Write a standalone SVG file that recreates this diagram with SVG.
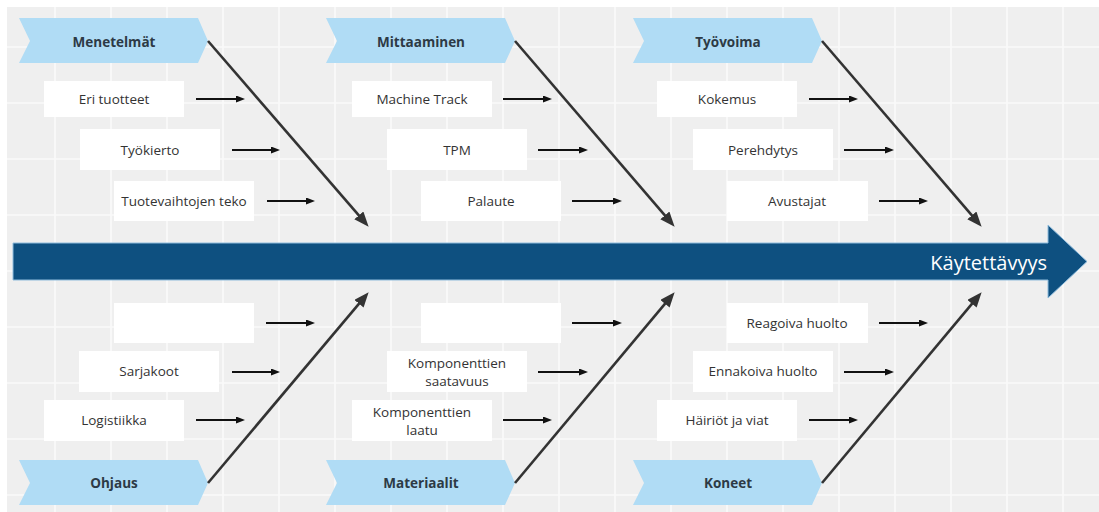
<svg xmlns="http://www.w3.org/2000/svg" width="1099" height="512" viewBox="0 0 1099 512">
<style>
.bg{fill:#efefef}
.grid line{stroke:#fafafa;stroke-width:1.6}
.chev{fill:#b0dcf5}
.ct{font-family:"Open Sans","Liberation Sans",sans-serif;font-weight:bold;font-size:13.5px;fill:#2d3a45;text-anchor:middle}
.box{fill:#ffffff}
.bt{font-family:"Open Sans","Liberation Sans",sans-serif;font-size:13.5px;fill:#333333;text-anchor:middle}
.sa{stroke:#111111;stroke-width:2;fill:none;marker-end:url(#sm)}
.da{stroke:#333333;stroke-width:2.6;fill:none;marker-end:url(#bg)}
</style>
<defs>
<marker id="sm" markerUnits="userSpaceOnUse" markerWidth="9" markerHeight="7" refX="4.5" refY="3.5" orient="auto"><path d="M0,0 L9,3.5 L0,7 z" fill="#111111"/></marker>
<marker id="bg" markerUnits="userSpaceOnUse" markerWidth="15" markerHeight="12" refX="7" refY="6" orient="auto"><path d="M0,0 L15,6 L0,12 z" fill="#333333"/></marker>
<path id="chevShape" d="M0,0 H179 L189,23 L179,45 H0 L11,23 Z"/>
</defs>
<rect x="7" y="7" width="1092" height="505" class="bg"/>
<g class="grid">
<line x1="55" y1="7" x2="55" y2="512"/><line x1="111" y1="7" x2="111" y2="512"/><line x1="167" y1="7" x2="167" y2="512"/><line x1="223" y1="7" x2="223" y2="512"/><line x1="279" y1="7" x2="279" y2="512"/><line x1="335" y1="7" x2="335" y2="512"/><line x1="391" y1="7" x2="391" y2="512"/><line x1="447" y1="7" x2="447" y2="512"/><line x1="503" y1="7" x2="503" y2="512"/><line x1="559" y1="7" x2="559" y2="512"/><line x1="615" y1="7" x2="615" y2="512"/><line x1="671" y1="7" x2="671" y2="512"/><line x1="727" y1="7" x2="727" y2="512"/><line x1="783" y1="7" x2="783" y2="512"/><line x1="839" y1="7" x2="839" y2="512"/><line x1="895" y1="7" x2="895" y2="512"/><line x1="951" y1="7" x2="951" y2="512"/><line x1="1007" y1="7" x2="1007" y2="512"/><line x1="1063" y1="7" x2="1063" y2="512"/>
<line x1="7" y1="47" x2="1099" y2="47"/><line x1="7" y1="103" x2="1099" y2="103"/><line x1="7" y1="159" x2="1099" y2="159"/><line x1="7" y1="215" x2="1099" y2="215"/><line x1="7" y1="271" x2="1099" y2="271"/><line x1="7" y1="327" x2="1099" y2="327"/><line x1="7" y1="383" x2="1099" y2="383"/><line x1="7" y1="439" x2="1099" y2="439"/><line x1="7" y1="495" x2="1099" y2="495"/>
</g>
<g id="spine">
<path d="M13,243 H1048 V225 L1087,261.5 L1048,298 V280 H13 Z" fill="#0e5080" stroke="#8fbcdc" stroke-width="1"/>
<text x="1047" y="269.5" font-family="'Open Sans','Liberation Sans',sans-serif" font-size="20" fill="#ffffff" text-anchor="end">Käytettävyys</text>
</g>
<g id="cat-menetelmat"><use href="#chevShape" x="19" y="18" class="chev"/><text x="114" y="46.5" class="ct">Menetelmät</text></g>
<g id="cat-mittaaminen"><use href="#chevShape" x="326" y="18" class="chev"/><text x="421" y="46.5" class="ct">Mittaaminen</text></g>
<g id="cat-tyovoima"><use href="#chevShape" x="633" y="18" class="chev"/><text x="728" y="46.5" class="ct">Työvoima</text></g>
<g id="cat-ohjaus"><use href="#chevShape" x="19" y="460" class="chev"/><text x="114" y="488" class="ct">Ohjaus</text></g>
<g id="cat-materiaalit"><use href="#chevShape" x="326" y="460" class="chev"/><text x="421" y="488" class="ct">Materiaalit</text></g>
<g id="cat-koneet"><use href="#chevShape" x="633" y="460" class="chev"/><text x="728" y="488" class="ct">Koneet</text></g>
<g id="c-eri-tuotteet"><rect x="44" y="81" width="140" height="36" class="box"/><text x="114" y="103.5" class="bt">Eri tuotteet</text></g>
<g id="c-tyokierto"><rect x="80" y="129" width="140" height="41" class="box"/><text x="150" y="154.5" class="bt">Työkierto</text></g>
<g id="c-tuotevaihtojen"><rect x="114" y="181" width="140" height="40" class="box"/><text x="184" y="205.5" class="bt">Tuotevaihtojen teko</text></g>
<g id="c-machine-track"><rect x="352" y="81" width="140" height="36" class="box"/><text x="422" y="103.5" class="bt">Machine Track</text></g>
<g id="c-tpm"><rect x="387" y="129" width="140" height="41" class="box"/><text x="457" y="154.5" class="bt">TPM</text></g>
<g id="c-palaute"><rect x="421" y="181" width="140" height="40" class="box"/><text x="491" y="205.5" class="bt">Palaute</text></g>
<g id="c-kokemus"><rect x="657" y="81" width="140" height="36" class="box"/><text x="727" y="103.5" class="bt">Kokemus</text></g>
<g id="c-perehdytys"><rect x="693" y="129" width="140" height="41" class="box"/><text x="763" y="154.5" class="bt">Perehdytys</text></g>
<g id="c-avustajat"><rect x="727" y="181" width="141" height="40" class="box"/><text x="797" y="205.5" class="bt">Avustajat</text></g>
<g id="c-empty1"><rect x="114" y="303" width="140" height="40" class="box"/></g>
<g id="c-sarjakoot"><rect x="79" y="351" width="140" height="41" class="box"/><text x="149" y="376" class="bt">Sarjakoot</text></g>
<g id="c-logistiikka"><rect x="44" y="400" width="140" height="41" class="box"/><text x="114" y="425" class="bt">Logistiikka</text></g>
<g id="c-empty2"><rect x="421" y="303" width="140" height="40" class="box"/></g>
<g id="c-saatavuus"><rect x="387" y="351" width="140" height="41" class="box"/><text x="457" y="367.5" class="bt">Komponenttien</text><text x="457" y="385.5" class="bt">saatavuus</text></g>
<g id="c-laatu"><rect x="352" y="400" width="140" height="41" class="box"/><text x="422" y="416.5" class="bt">Komponenttien</text><text x="422" y="434.5" class="bt">laatu</text></g>
<g id="c-reagoiva"><rect x="727" y="303" width="141" height="40" class="box"/><text x="797" y="327.5" class="bt">Reagoiva huolto</text></g>
<g id="c-ennakoiva"><rect x="693" y="351" width="140" height="41" class="box"/><text x="763" y="376" class="bt">Ennakoiva huolto</text></g>
<g id="c-hairiot"><rect x="657" y="400" width="140" height="41" class="box"/><text x="727" y="425" class="bt">Häiriöt ja viat</text></g>
<g id="connectors">
<line x1="208" y1="41" x2="363.4" y2="220.7" class="da"/>
<line x1="515" y1="41" x2="669.4" y2="220.7" class="da"/>
<line x1="822" y1="41" x2="976.4" y2="220.7" class="da"/>
<line x1="208" y1="483" x2="363.5" y2="298.4" class="da"/>
<line x1="515" y1="483" x2="669.5" y2="298.4" class="da"/>
<line x1="822" y1="483" x2="976.5" y2="298.4" class="da"/>
<line x1="196" y1="99" x2="240.5" y2="99" class="sa"/>
<line x1="232" y1="150" x2="275.5" y2="150" class="sa"/>
<line x1="267" y1="201" x2="310.5" y2="201" class="sa"/>
<line x1="503" y1="99" x2="547.5" y2="99" class="sa"/>
<line x1="538" y1="150" x2="583.5" y2="150" class="sa"/>
<line x1="572" y1="201" x2="617.5" y2="201" class="sa"/>
<line x1="809" y1="99" x2="853.5" y2="99" class="sa"/>
<line x1="844" y1="150" x2="889.5" y2="150" class="sa"/>
<line x1="879" y1="201" x2="923.5" y2="201" class="sa"/>
<line x1="266" y1="323" x2="310.5" y2="323" class="sa"/>
<line x1="232" y1="372" x2="275.5" y2="372" class="sa"/>
<line x1="196" y1="420" x2="240.5" y2="420" class="sa"/>
<line x1="572" y1="323" x2="617.5" y2="323" class="sa"/>
<line x1="538" y1="372" x2="583.5" y2="372" class="sa"/>
<line x1="503" y1="420" x2="547.5" y2="420" class="sa"/>
<line x1="879" y1="323" x2="923.5" y2="323" class="sa"/>
<line x1="844" y1="372" x2="889.5" y2="372" class="sa"/>
<line x1="809" y1="420" x2="853.5" y2="420" class="sa"/>
</g>
</svg>
